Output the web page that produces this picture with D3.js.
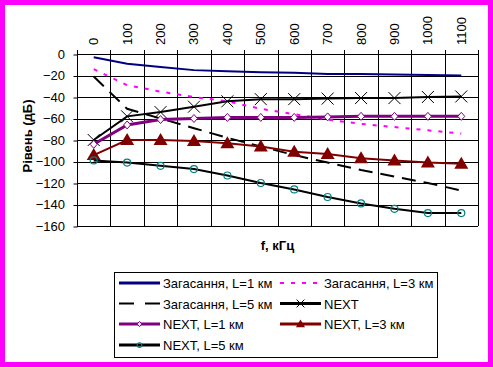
<!DOCTYPE html>
<html lang="uk">
<head>
<meta charset="UTF-8">
<title>Рівень сигналу</title>
<script src="https://d3js.org/d3.v7.min.js"></script>
<style>
  html, body { margin: 0; padding: 0; background: #fff; }
  svg { display: block; font-family: Arial, "Liberation Sans", sans-serif; }
  .axis text { font-size: 13px; fill: #000; }
  .axis path { display: none; }
  .axis line { stroke: #000; }
</style>
</head>
<body>
<svg id="chart" width="493" height="367"></svg>
<script>
// Частоти, кГц
const freqs = [0, 100, 200, 300, 400, 500, 600, 700, 800, 900, 1000, 1100];
const yTicks = [0, -20, -40, -60, -80, -100, -120, -140, -160];

// Значення, дБ
const att1 = [-3, -9, -12, -15, -16, -17, -17.5, -18.5, -18.5, -19, -19.5, -20];
const att3 = [-14, -29, -35, -40, -44, -51, -56, -61, -65, -68, -71, -74];
const att5 = [-21, -51, -60, -69, -78, -86, -94, -101, -108, -114, -120, -127];
const next0 = [-80, -58, -54, -49, -44, -42, -42, -41.5, -41, -41, -40, -39.5];
const next1 = [-84, -66, -61, -60, -59, -59, -59, -58.5, -58, -58, -58, -58];
const next3 = [-94, -80, -80, -81, -83, -86, -91, -93, -97, -99, -101, -102];
const next5 = [-99, -101, -104, -107, -113, -120, -126, -133, -139, -144, -148, -148];

const series = [
  {name: "Загасання, L=1 км", values: att1, color: "#000080", width: 2, dash: null, marker: null},
  {name: "Загасання, L=3 км", values: att3, color: "#ff00ff", width: 2, dash: "4,7", marker: null},
  {name: "Загасання, L=5 км", values: att5, color: "#000000", width: 2, dash: "14,8", marker: null},
  {name: "NEXT", values: next0, color: "#000000", width: 2, dash: null, marker: "x"},
  {name: "NEXT, L=1 км", values: next1, color: "#800080", width: 3, dash: null, marker: "diamond"},
  {name: "NEXT, L=3 км", values: next3, color: "#800000", width: 2, dash: null, marker: "triangle"},
  {name: "NEXT, L=5 км", values: next5, color: "#000000", width: 2, dash: null, marker: "circle"}
];

const svg = d3.select("#chart");
const W = +svg.attr("width"), H = +svg.attr("height");

// рамка діаграми
svg.append("rect").attr("x", 2.5).attr("y", 2.5).attr("width", W - 5).attr("height", H - 5)
  .attr("fill", "#fff").attr("stroke", "#ff00ff").attr("stroke-width", 5);

const plot = {left: 77, right: 478, top: 54, bottom: 226};

const x = d3.scaleBand().domain(freqs).range([plot.left, plot.right]).padding(0);
const y = d3.scaleLinear().domain([-160, 0]).range([plot.bottom, plot.top]);
const cx = d => x(d) + x.bandwidth() / 2;

// сітка
const grid = svg.append("g").attr("stroke", "#000").attr("stroke-width", 1);
grid.selectAll("line.h").data(yTicks).enter().append("line")
  .attr("x1", plot.left).attr("x2", plot.right)
  .attr("y1", d => Math.round(y(d)) + 0.5).attr("y2", d => Math.round(y(d)) + 0.5);
const xEdges = freqs.map(d => x(d)).concat([x(freqs[freqs.length - 1]) + x.bandwidth()]);
grid.selectAll("line.v").data(xEdges).enter().append("line")
  .attr("x1", d => Math.round(d) + 0.5).attr("x2", d => Math.round(d) + 0.5)
  .attr("y1", plot.top - 4).attr("y2", plot.bottom);

// вісь Y
svg.append("g").attr("class", "axis")
  .attr("transform", `translate(${plot.left},0)`)
  .call(d3.axisLeft(y).tickValues(yTicks).tickSize(4).tickPadding(8).tickFormat(d3.format("d")))
  .selectAll(".tick line").attr("transform", "translate(0.5,0.5)");

// підписи осі X зверху
svg.append("g").selectAll("text").data(freqs).enter().append("text")
  .attr("transform", d => `translate(${cx(d) + 4.5},45) rotate(-90)`)
  .attr("font-size", 13).attr("text-anchor", "start")
  .text(d => d);

// назви осей
svg.append("text").attr("transform", "translate(32,136) rotate(-90)")
  .attr("text-anchor", "middle").attr("font-size", 13).attr("font-weight", "bold")
  .text("Рівень (дБ)");
svg.append("text").attr("x", (plot.left + plot.right) / 2).attr("y", 250)
  .attr("text-anchor", "middle").attr("font-size", 13).attr("font-weight", "bold")
  .text("f, кГц");

function drawMarker(g, type, color, k) {
  k = k || 1;
  if (type === "x") {
    g.append("path").attr("d", `M${-6 * k},${-6 * k}L${6 * k},${6 * k}M${-6 * k},${6 * k}L${6 * k},${-6 * k}`)
      .attr("stroke", "#000").attr("stroke-width", 1).attr("fill", "none");
  } else if (type === "diamond") {
    g.append("path").attr("d", `M0,${-4 * k}L${3.5 * k},0L0,${4 * k}L${-3.5 * k},0Z`)
      .attr("fill", "#fff").attr("stroke", color).attr("stroke-width", 1);
  } else if (type === "triangle") {
    g.append("path").attr("d", `M0,${-7 * k}L${7 * k},${5 * k}L${-7 * k},${5 * k}Z`).attr("fill", color);
  } else if (type === "circle") {
    g.append("circle").attr("r", 3.5 * k).attr("fill", "none").attr("stroke", "#008080").attr("stroke-width", 1.2);
  }
}

const line = d3.line().x((d, i) => cx(freqs[i])).y(d => y(d));

series.forEach(s => {
  svg.append("path").datum(s.values)
    .attr("d", line).attr("fill", "none")
    .attr("stroke", s.color).attr("stroke-width", s.width)
    .attr("stroke-dasharray", s.dash);
  if (s.marker) {
    svg.append("g").selectAll("g").data(s.values).enter().append("g")
      .attr("transform", (d, i) => `translate(${cx(freqs[i])},${y(d)})`)
      .each(function () { drawMarker(d3.select(this), s.marker, s.color); });
  }
});

// легенда
const legend = svg.append("g");
legend.append("rect").attr("x", 114.5).attr("y", 272.5).attr("width", 323).attr("height", 85)
  .attr("fill", "#fff").attr("stroke", "#000").attr("stroke-width", 1);
const rowY = [283, 303.5, 324, 345];
const colX = [119, 280];
series.forEach((s, i) => {
  const g = legend.append("g")
    .attr("transform", `translate(${colX[i % 2]},${rowY[Math.floor(i / 2)]})`);
  g.append("line").attr("x1", 0).attr("x2", 41).attr("y1", 0).attr("y2", 0)
    .attr("stroke", s.color).attr("stroke-width", s.dash ? 2 : 3)
    .attr("stroke-dasharray", s.dash === "14,8" ? "15,11" : s.dash);
  if (s.marker) drawMarker(g.append("g").attr("transform", "translate(20.5,0)"), s.marker, s.color, 0.65);
  g.append("text").attr("x", 44).attr("y", 5).attr("font-size", 13).text(s.name);
});
</script>
</body>
</html>
